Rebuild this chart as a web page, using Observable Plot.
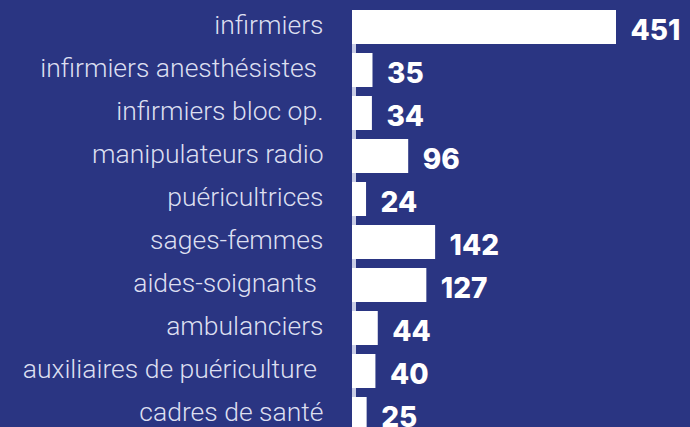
<!DOCTYPE html>
<html>
<head>
<meta charset="utf-8">
<script src="https://cdn.jsdelivr.net/npm/d3@7"></script>
<script src="https://cdn.jsdelivr.net/npm/@observablehq/plot@0.6"></script>
<style>
  html, body { margin: 0; padding: 0; background: #2a3582; overflow: hidden; }
  svg text { white-space: pre; }
</style>
</head>
<body>
<div id="chart"></div>
<script>
const categories = ["infirmiers", "infirmiers anesthésistes ", "infirmiers bloc op.", "manipulateurs radio", "puéricultrices", "sages-femmes", "aides-soignants ", "ambulanciers", "auxiliaires de puériculture ", "cadres de santé"];
const values = [451, 35, 34, 96, 24, 142, 127, 44, 40, 25];

const data = categories.map((c, i) => ({category: c, value: values[i]}));

const chart = Plot.plot({
  width: 690,
  height: 427,
  marginLeft: 352,
  marginRight: 74,
  marginTop: 10,
  marginBottom: 0,
  style: {background: "#2a3582", fontFamily: "Roboto", overflow: "hidden"},
  x: {domain: [0, d3.max(values)], axis: null},
  y: {domain: categories, range: [1, 440], padding: 0.2, label: null},
  marks: [
    Plot.ruleX([0], {stroke: "#c9cde6", strokeWidth: 4, dx: 1.5}),
    Plot.barX(data, {y: "category", x: "value", fill: "white"}),
    Plot.axisY({tickSize: 0, tickPadding: 29, fontSize: 26.5, fontWeight: 300, fill: "#dcdff0", label: null, dy: -2}),
    Plot.text(data, {y: "category", x: "value", text: d => String(d.value), textAnchor: "start", dx: 14, dy: 4, fill: "white", fontSize: 28, fontWeight: 800, fontFamily: "Inter"})
  ]
});
document.getElementById("chart").appendChild(chart);
</script>
</body>
</html>
